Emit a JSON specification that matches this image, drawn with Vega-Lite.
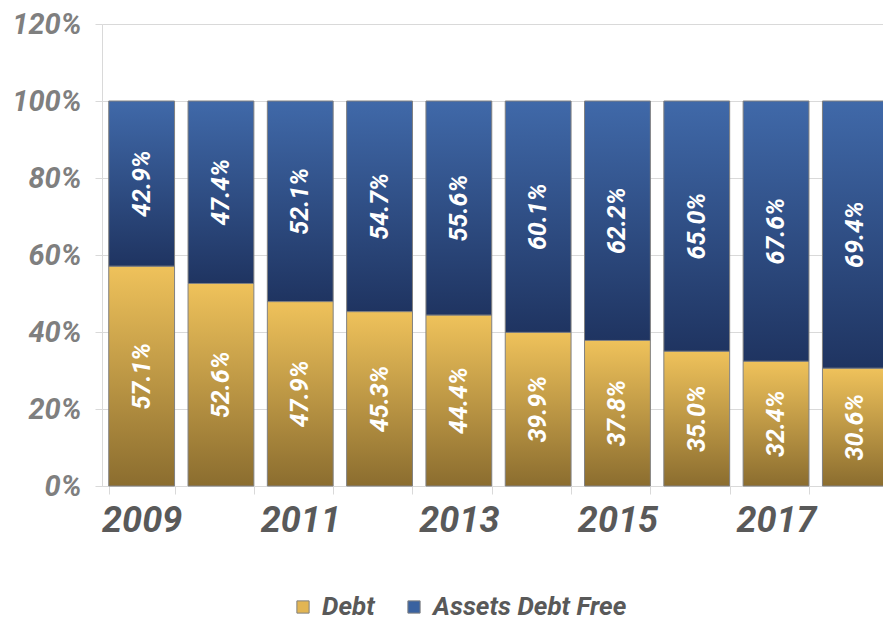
{
  "$schema": "https://vega.github.io/schema/vega-lite/v6.json",
  "width": 793,
  "height": 462,
  "autosize": {"type": "none"},
  "padding": {"left": 102, "top": 24, "right": 0, "bottom": 134},
  "background": "white",
  "config": {
    "view": {"stroke": null},
    "font": "Roboto",
    "axis": {"labelFont": "Roboto", "labelFontStyle": "italic", "labelFontWeight": "bold"},
    "legend": {"labelFont": "Roboto"}
  },
  "data": {
    "values": [
      {"year": 2009, "series": "Debt", "value": 0.571},
      {"year": 2009, "series": "Assets Debt Free", "value": 0.429},
      {"year": 2010, "series": "Debt", "value": 0.526},
      {"year": 2010, "series": "Assets Debt Free", "value": 0.474},
      {"year": 2011, "series": "Debt", "value": 0.479},
      {"year": 2011, "series": "Assets Debt Free", "value": 0.521},
      {"year": 2012, "series": "Debt", "value": 0.453},
      {"year": 2012, "series": "Assets Debt Free", "value": 0.547},
      {"year": 2013, "series": "Debt", "value": 0.444},
      {"year": 2013, "series": "Assets Debt Free", "value": 0.556},
      {"year": 2014, "series": "Debt", "value": 0.399},
      {"year": 2014, "series": "Assets Debt Free", "value": 0.601},
      {"year": 2015, "series": "Debt", "value": 0.378},
      {"year": 2015, "series": "Assets Debt Free", "value": 0.622},
      {"year": 2016, "series": "Debt", "value": 0.350},
      {"year": 2016, "series": "Assets Debt Free", "value": 0.650},
      {"year": 2017, "series": "Debt", "value": 0.324},
      {"year": 2017, "series": "Assets Debt Free", "value": 0.676},
      {"year": 2018, "series": "Debt", "value": 0.306},
      {"year": 2018, "series": "Assets Debt Free", "value": 0.694}
    ]
  },
  "encoding": {
    "x": {
      "field": "year",
      "type": "ordinal",
      "scale": {"paddingInner": 0.17, "paddingOuter": 0.085},
      "axis": {
        "title": null,
        "labelAngle": 0,
        "labelFontSize": 36,
        "labelColor": "#595959",
        "labelPadding": 9,
        "labelExpr": "datum.value % 2 == 1 ? datum.label : ''",
        "tickBand": "extent",
        "tickSize": 8,
        "tickColor": "#d9d9d9",
        "domainColor": "#d9d9d9",
        "grid": false
      }
    }
  },
  "layer": [
    {
      "mark": {"type": "bar", "stroke": "#808080", "strokeWidth": 1},
      "encoding": {
        "y": {
          "field": "value",
          "type": "quantitative",
          "stack": "zero",
          "scale": {"domain": [0, 1.2]},
          "axis": {
            "title": null,
            "format": ".0%",
            "values": [0, 0.2, 0.4, 0.6, 0.8, 1.0, 1.2],
            "labelFontSize": 29,
            "labelColor": "#7f7f7f",
            "labelPadding": 14,
            "grid": true,
            "gridColor": "#d9d9d9",
            "tickColor": "#d9d9d9",
            "tickSize": 7,
            "domainColor": "#d9d9d9"
          }
        },
        "detail": {"field": "series"},
        "order": {"field": "series", "sort": "descending"},
        "fill": {
          "condition": {
            "test": "datum.series === 'Debt'",
            "value": {"gradient": "linear", "x1": 0, "y1": 0, "x2": 0, "y2": 1,
              "stops": [{"offset": 0, "color": "#EFC25B"}, {"offset": 1, "color": "#8B6D2F"}]}
          },
          "value": {"gradient": "linear", "x1": 0, "y1": 0, "x2": 0, "y2": 1,
            "stops": [{"offset": 0, "color": "#4069A9"}, {"offset": 1, "color": "#1F3461"}]}
        }
      }
    },
    {
      "transform": [
        {"stack": "value", "groupby": ["year"], "sort": [{"field": "series", "order": "descending"}], "as": ["v0", "v1"]},
        {"calculate": "(datum.v0 + datum.v1) / 2", "as": "mid"}
      ],
      "mark": {"type": "text", "angle": 270, "color": "white", "fontSize": 25, "fontStyle": "italic", "fontWeight": "bold", "font": "Roboto"},
      "encoding": {
        "y": {"field": "mid", "type": "quantitative"},
        "text": {"field": "value", "format": ".1%"}
      }
    },
    {
      "transform": [{"filter": "false"}],
      "mark": {"type": "square"},
      "encoding": {
        "y": {"field": "value", "type": "quantitative"},
        "color": {
          "field": "series",
          "type": "nominal",
          "scale": {"domain": ["Debt", "Assets Debt Free"], "range": ["#E2B553", "#3A62A0"]},
          "legend": {
            "title": null,
            "orient": "none",
            "legendX": 188,
            "legendY": 570,
            "direction": "horizontal",
            "symbolType": "square",
            "symbolSize": 150,
            "symbolStrokeColor": "#808080",
            "symbolStrokeWidth": 1,
            "symbolOpacity": 1,
            "labelFontSize": 26,
            "labelFontStyle": "italic",
            "labelFontWeight": "bold",
            "labelColor": "#595959",
            "labelLimit": 500,
            "columnPadding": 26,
            "labelOffset": 6
          }
        }
      }
    }
  ]
}
